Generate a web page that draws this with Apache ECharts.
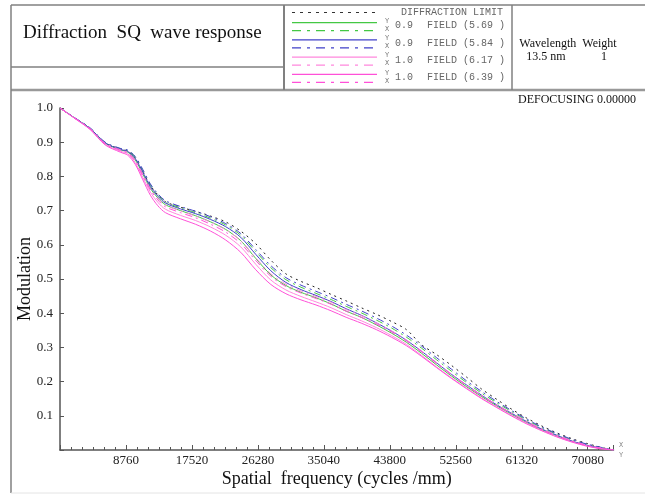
<!DOCTYPE html>
<html>
<head>
<meta charset="utf-8">
<script src="https://cdn.jsdelivr.net/npm/echarts@6/dist/echarts.min.js"></script>
<style>
  html, body { margin: 0; padding: 0; background: #fff; }
  #chart { width: 645px; height: 495px; }
</style>
</head>
<body>
<div id="chart"></div>
<script>
// spatial frequency (cycles/mm)
var freq = [0, 2000, 4000, 6000, 8000, 9000, 10000, 11000, 12000, 13000, 14000, 16000, 18000, 20000, 22000, 24000, 26000, 28000, 30000, 32000, 34000, 36000, 38000, 40000, 42000, 44000, 46000, 48000, 50000, 52000, 54000, 56000, 58000, 60000, 62000, 64000, 66000, 68000, 70000, 72000, 73500];

// modulation
var diffLimit = [1.0, 0.97, 0.94, 0.898, 0.88, 0.874, 0.853, 0.814, 0.774, 0.746, 0.726, 0.71, 0.698, 0.684, 0.667, 0.64, 0.603, 0.555, 0.515, 0.493, 0.475, 0.455, 0.436, 0.416, 0.397, 0.376, 0.352, 0.308, 0.279, 0.247, 0.213, 0.178, 0.148, 0.119, 0.093, 0.07, 0.05, 0.033, 0.019, 0.007, 0];
var f1Y = [1.0, 0.97, 0.94, 0.897, 0.878, 0.871, 0.848, 0.807, 0.765, 0.737, 0.717, 0.7, 0.685, 0.667, 0.645, 0.612, 0.56, 0.512, 0.481, 0.461, 0.445, 0.427, 0.406, 0.388, 0.366, 0.342, 0.315, 0.283, 0.249, 0.216, 0.185, 0.156, 0.129, 0.104, 0.08, 0.059, 0.041, 0.025, 0.013, 0.004, 0];
var f1X = [1.0, 0.97, 0.941, 0.899, 0.881, 0.875, 0.855, 0.816, 0.774, 0.745, 0.725, 0.708, 0.694, 0.678, 0.658, 0.628, 0.58, 0.533, 0.498, 0.476, 0.458, 0.44, 0.42, 0.401, 0.38, 0.357, 0.33, 0.298, 0.264, 0.23, 0.197, 0.166, 0.138, 0.112, 0.087, 0.065, 0.046, 0.029, 0.016, 0.006, 0];
var f2Y = [1.0, 0.97, 0.94, 0.898, 0.879, 0.873, 0.852, 0.812, 0.77, 0.742, 0.722, 0.705, 0.691, 0.674, 0.653, 0.622, 0.572, 0.524, 0.49, 0.469, 0.452, 0.434, 0.413, 0.394, 0.372, 0.348, 0.321, 0.289, 0.255, 0.221, 0.19, 0.16, 0.132, 0.107, 0.083, 0.061, 0.043, 0.026, 0.014, 0.005, 0];
var f2X = [1.0, 0.971, 0.942, 0.9, 0.882, 0.877, 0.858, 0.82, 0.778, 0.749, 0.729, 0.712, 0.698, 0.682, 0.662, 0.633, 0.586, 0.539, 0.504, 0.482, 0.464, 0.446, 0.426, 0.407, 0.386, 0.363, 0.336, 0.304, 0.27, 0.236, 0.202, 0.171, 0.142, 0.115, 0.09, 0.067, 0.048, 0.031, 0.017, 0.007, 0];
var f3Y = [1.0, 0.969, 0.938, 0.894, 0.874, 0.866, 0.84, 0.797, 0.754, 0.724, 0.704, 0.686, 0.671, 0.652, 0.628, 0.594, 0.543, 0.497, 0.468, 0.449, 0.433, 0.416, 0.396, 0.378, 0.358, 0.335, 0.309, 0.277, 0.243, 0.211, 0.181, 0.152, 0.126, 0.101, 0.078, 0.057, 0.039, 0.024, 0.012, 0.004, 0];
var f3X = [1.0, 0.97, 0.94, 0.897, 0.878, 0.87, 0.847, 0.806, 0.764, 0.736, 0.716, 0.699, 0.684, 0.666, 0.644, 0.612, 0.562, 0.515, 0.485, 0.465, 0.449, 0.432, 0.411, 0.393, 0.372, 0.349, 0.322, 0.29, 0.256, 0.222, 0.19, 0.16, 0.132, 0.107, 0.083, 0.061, 0.043, 0.027, 0.014, 0.005, 0];
var f4Y = [1.0, 0.969, 0.937, 0.892, 0.871, 0.862, 0.835, 0.79, 0.745, 0.714, 0.694, 0.676, 0.66, 0.64, 0.614, 0.578, 0.527, 0.484, 0.457, 0.439, 0.424, 0.407, 0.388, 0.371, 0.352, 0.33, 0.305, 0.274, 0.241, 0.209, 0.179, 0.15, 0.124, 0.099, 0.076, 0.056, 0.038, 0.023, 0.011, 0.003, 0];
var f4X = [1.0, 0.97, 0.939, 0.895, 0.876, 0.868, 0.844, 0.802, 0.76, 0.731, 0.711, 0.694, 0.679, 0.66, 0.637, 0.604, 0.554, 0.508, 0.478, 0.459, 0.443, 0.426, 0.406, 0.388, 0.368, 0.345, 0.319, 0.287, 0.253, 0.22, 0.188, 0.158, 0.131, 0.106, 0.082, 0.06, 0.042, 0.026, 0.013, 0.004, 0];

// legend contents
var fieldNames = ['0.9', '0.9', '1.0', '1.0'];
var fieldAngles = ['5.69', '5.84', '6.17', '6.39'];
var fieldColors = ['#44c844', '#4040c8', '#ff88dd', '#ff50d8'];
var fieldY = [f1Y, f2Y, f3Y, f4Y];
var fieldX = [f1X, f2X, f3X, f4X];

var xStep = 8760;
var xMax = 73500;

var serif = '"Liberation Serif", "DejaVu Serif", serif';
var mono = '"Liberation Mono", "DejaVu Sans Mono", monospace';
var frame = '#808080';
var dashDot = [7, 4, 2, 4];

function pairs(ys) {
	var out = [];
	for (var i = 0; i < freq.length; i++) {
		out.push([freq[i], ys[i]]);
	}
	return out;
}

var series = [{
	name: 'DIFFRACTION LIMIT',
	type: 'line',
	data: pairs(diffLimit),
	symbol: 'none',
	smooth: 0.3,
	lineStyle: { color: '#222', width: 1, type: [2, 4] },
	z: 3
}];
for (var k = 0; k < 4; k++) {
	series.push({
		name: 'Y ' + fieldNames[k] + ' FIELD (' + fieldAngles[k] + ' )',
		type: 'line',
		data: pairs(fieldY[k]),
		symbol: 'none',
		smooth: 0.3,
		lineStyle: { color: fieldColors[k], width: 1 }
	});
	series.push({
		name: 'X ' + fieldNames[k] + ' FIELD (' + fieldAngles[k] + ' )',
		type: 'line',
		data: pairs(fieldX[k]),
		symbol: 'none',
		smooth: 0.3,
		lineStyle: { color: fieldColors[k], width: 1, type: dashDot }
	});
}

// header boxes and legend
var graphic = [
	{ type: 'line', shape: { x1: 11, y1: 5, x2: 645, y2: 5 }, style: { stroke: frame, lineWidth: 1.5 } },
	{ type: 'line', shape: { x1: 11, y1: 90, x2: 645, y2: 90 }, style: { stroke: '#999', lineWidth: 2.5 } },
	{ type: 'line', shape: { x1: 11, y1: 5, x2: 11, y2: 493 }, style: { stroke: frame, lineWidth: 1.5 } },
	{ type: 'line', shape: { x1: 11, y1: 493, x2: 645, y2: 493 }, style: { stroke: '#e4e4e4', lineWidth: 1 } },
	{ type: 'line', shape: { x1: 11, y1: 67, x2: 284, y2: 67 }, style: { stroke: frame, lineWidth: 1.5 } },
	{ type: 'line', shape: { x1: 284, y1: 5, x2: 284, y2: 90 }, style: { stroke: frame, lineWidth: 2 } },
	{ type: 'line', shape: { x1: 512, y1: 5, x2: 512, y2: 90 }, style: { stroke: frame, lineWidth: 1.5 } },
	{ type: 'text', style: { text: 'Diffraction  SQ  wave response', x: 23, y: 33, font: '19px ' + serif, fill: '#111', verticalAlign: 'middle' } },
	{ type: 'text', style: { text: 'Wavelength  Weight', x: 568, y: 44, font: '12px ' + serif, fill: '#111', align: 'center', verticalAlign: 'middle' } },
	{ type: 'text', style: { text: '13.5 nm', x: 546, y: 57, font: '12px ' + serif, fill: '#111', align: 'center', verticalAlign: 'middle' } },
	{ type: 'text', style: { text: '1', x: 604, y: 57, font: '12px ' + serif, fill: '#111', align: 'center', verticalAlign: 'middle' } },
	{ type: 'text', style: { text: 'DEFOCUSING 0.00000', x: 636, y: 100, font: '12px ' + serif, fill: '#111', align: 'right', verticalAlign: 'middle' } },
	{ type: 'line', shape: { x1: 292, y1: 12.5, x2: 377, y2: 12.5 }, style: { stroke: '#333', lineWidth: 1, lineDash: [3, 5] } },
	{ type: 'text', style: { text: 'DIFFRACTION LIMIT', x: 503, y: 12.5, font: '10px ' + mono, fill: '#666', align: 'right', verticalAlign: 'middle' } },
	{ type: 'text', style: { text: 'X', x: 619, y: 445, font: '7px ' + mono, fill: '#888', verticalAlign: 'middle' } },
	{ type: 'text', style: { text: 'Y', x: 619, y: 455, font: '7px ' + mono, fill: '#888', verticalAlign: 'middle' } }
];
for (var r = 0; r < 4; r++) {
	var yy = 22.7 + r * 17.2;
	graphic.push({ type: 'line', shape: { x1: 292, y1: yy, x2: 377, y2: yy }, style: { stroke: fieldColors[r], lineWidth: 1.2 } });
	graphic.push({ type: 'line', shape: { x1: 292, y1: yy + 8, x2: 377, y2: yy + 8 }, style: { stroke: fieldColors[r], lineWidth: 1.2, lineDash: [9, 6, 3, 6] } });
	graphic.push({ type: 'text', style: { text: 'Y', x: 385, y: yy - 1.5, font: '7px ' + mono, fill: '#777', verticalAlign: 'middle' } });
	graphic.push({ type: 'text', style: { text: 'X', x: 385, y: yy + 6.5, font: '7px ' + mono, fill: '#777', verticalAlign: 'middle' } });
	graphic.push({ type: 'text', style: { text: fieldNames[r], x: 395, y: yy + 3, font: '10px ' + mono, fill: '#666', verticalAlign: 'middle' } });
	graphic.push({ type: 'text', style: { text: 'FIELD (' + fieldAngles[r] + ' )', x: 505, y: yy + 3, font: '10px ' + mono, fill: '#666', align: 'right', verticalAlign: 'middle' } });
}

var chart = echarts.init(document.getElementById('chart'));
chart.setOption({
	animation: false,
	backgroundColor: '#fff',
	grid: { left: 60, right: 31.5, top: 108, bottom: 45 },
	xAxis: {
		type: 'value',
		min: 0,
		max: xMax,
		interval: xStep,
		name: 'Spatial  frequency (cycles /mm)',
		nameLocation: 'middle',
		nameGap: 20,
		nameMoveOverlap: false,
		nameTextStyle: { fontFamily: serif, fontSize: 18, color: '#111' },
		axisLine: { lineStyle: { color: '#555', width: 1.5 } },
		axisTick: { inside: true, length: 5, lineStyle: { color: '#555' } },
		minorTick: { show: true, splitNumber: 6, length: 3, lineStyle: { color: '#555' } },
		splitLine: { show: false },
		axisLabel: {
			showMaxLabel: false,
			margin: 4,
			fontFamily: serif,
			fontSize: 13,
			color: '#222',
			formatter: function(v) { return v === 0 ? '' : String(v); }
		}
	},
	yAxis: {
		type: 'value',
		min: 0,
		max: 1,
		interval: 0.1,
		name: 'Modulation',
		nameLocation: 'middle',
		nameGap: 26,
		nameMoveOverlap: false,
		nameTextStyle: { fontFamily: serif, fontSize: 18, color: '#111' },
		axisLine: { show: true, lineStyle: { color: '#555', width: 1.5 } },
		axisTick: { show: true, inside: true, length: 4, lineStyle: { color: '#555' } },
		splitLine: { show: false },
		axisLabel: {
			margin: 7,
			fontFamily: serif,
			fontSize: 13,
			color: '#222',
			formatter: function(v) { return v === 0 ? '' : v.toFixed(1); }
		}
	},
	series: series,
	graphic: graphic
});
</script>
</body>
</html>
